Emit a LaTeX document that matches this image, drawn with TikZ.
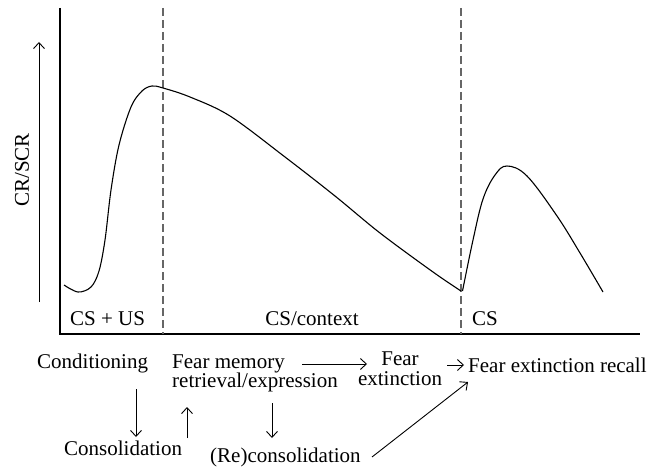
\documentclass[tikz,border=0pt]{standalone}
\usepackage{fontspec}
\setmainfont{Liberation Serif}
\usetikzlibrary{arrows.meta}
\begin{document}
\begin{tikzpicture}[x=1pt,y=-1pt,
  lbl/.style={inner sep=0pt,font=\fontsize{21}{20}\selectfont},
  axis/.style={line width=1.1pt,black},
  divider/.style={line width=1.2pt,gray!80!black,dash pattern=on 8pt off 4pt},
  curve/.style={line width=1.1pt,black,line join=round},
  arr/.style={line width=0.9pt,-{Straight Barb[length=6pt,width=11pt,line width=0.9pt]}}]
\useasboundingbox (0,0) rectangle (660,468);
% axes
\coordinate (otop) at (60,8);
\coordinate (orig) at (60,334);
\coordinate (xend) at (640,334);
\draw[axis] (otop) -- (orig) -- (xend);
% dividers
\coordinate (d1t) at (163,8);
\coordinate (d1b) at (163,334);
\coordinate (d2t) at (461,8);
\coordinate (d2b) at (461,334);
\draw[divider] (d1t) -- (d1b);
\draw[divider] (d2t) -- (d2b);
% y label
\coordinate (ya) at (39,302);
\coordinate (yb) at (39,42);
\draw[arr] (ya) -- (yb);
\node[lbl,rotate=90] (ylab) at (22,170) {CR/SCR};
% curves
\draw[curve] plot[smooth,tension=0.55] coordinates {(64,285) (78,292) (91,287) (99,271) (105,240) (111,190) (119,145) (131,107) (142,91) (152,86) (163,88) (190,97) (230,116) (285,157) (335,196) (380,233) (433,272) (461,291)};
\draw[curve] plot[smooth,tension=0.6] coordinates {(462.5,291) (473,240) (483,199) (495,175) (507,166) (527,176) (557,216) (580,253) (603,292)};
% phase labels
\node[lbl,anchor=base west] (csus) at (70,325) {CS + US};
\node[lbl,anchor=base] (csctx) at (312,325) {CS/context};
\node[lbl,anchor=base west] (cs) at (472,325) {CS};
% process labels
\node[lbl,anchor=base west] (cond) at (37,368) {Conditioning};
\node[lbl,anchor=base west] (fm1) at (172,368) {Fear memory};
\node[lbl,anchor=base west] (fm2) at (172,387) {retrieval/expression};
\node[lbl,anchor=base] (fe1) at (400,365) {Fear};
\node[lbl,anchor=base] (fe2) at (400,385) {extinction};
\node[lbl,anchor=base west] (fer) at (468,372) {Fear extinction recall};
\node[lbl,anchor=base west] (cons) at (64,455) {Consolidation};
\node[lbl,anchor=base west] (recons) at (210,462) {(Re)consolidation};
% arrows
\coordinate (a1s) at (136,389); \coordinate (a1e) at (136,437);
\draw[arr] (a1s) -- (a1e);
\coordinate (a2s) at (187,438); \coordinate (a2e) at (187,407);
\draw[arr] (a2s) -- (a2e);
\coordinate (a3s) at (272,403); \coordinate (a3e) at (272,438);
\draw[arr] (a3s) -- (a3e);
\coordinate (a4s) at (302,364); \coordinate (a4e) at (367,364);
\draw[arr] (a4s) -- (a4e);
\coordinate (a5s) at (447,365); \coordinate (a5e) at (464,365);
\draw[arr] (a5s) -- (a5e);
\coordinate (a6s) at (372,457); \coordinate (a6e) at (468,382);
\draw[arr] (a6s) -- (a6e);
\end{tikzpicture}
\end{document}
